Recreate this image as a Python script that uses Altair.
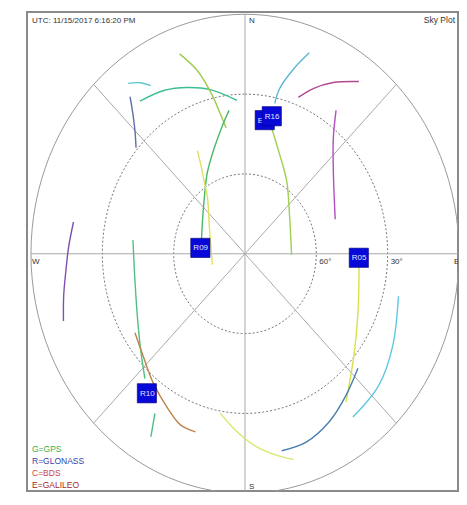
import altair as alt
import pandas as pd
import numpy as np

# ---------------- data (azimuth deg, elevation deg) ----------------
TRACK_AZ = [
    [322.5, 325.5, 327.9],
    [322.4, 331.2, 338.8, 346.7, 356.7],
    [339.9, 343.8, 347.0, 349.3, 350.5],
    [352.9, 348.7, 342.0, 332.6, 321.1, 303.6, 287.0],
    [332.7, 330.5, 327.5, 323.3, 303.7, 253.4],
    [320.7, 317.9, 314.9, 311.0],
    [19.7, 16.4, 13.2, 12.5],
    [20.9, 24.8, 30.0, 36.5],
    [35.4, 40.5, 50.0, 71.1],
    [13.4, 21.4, 32.5, 51.5, 91.2],
    [279.4, 272.0, 264.4, 258.2, 251.7],
    [276.3, 258.2, 240.0, 229.6, 221.9],
    [237.3, 228.2, 218.7, 209.3, 202.9, 197.3],
    [212.3, 209.9],
    [189.9, 184.7, 180.3, 176.1, 171.5, 165.2],
    [95.7, 115.2, 129.9, 142.7],
    [132.2, 141.4, 150.7, 160.0, 168.2],
    [103.9, 119.1, 131.3, 143.5],
]
TRACK_EL = [
    [9.3, 12.0, 15.4],
    [17.6, 19.9, 23.0, 26.6, 32.3],
    [10.0, 18.4, 28.9, 38.2, 42.1],
    [35.7, 41.1, 48.2, 55.6, 62.8, 68.5, 70.9],
    [46.4, 52.8, 58.2, 63.6, 72.0, 75.7],
    [13.7, 19.8, 24.7, 29.3],
    [9.8, 17.6, 26.2, 32.1],
    [27.1, 21.6, 15.7, 9.5],
    [23.9, 32.8, 41.5, 49.9],
    [41.5, 50.0, 57.4, 66.1, 70.4],
    [16.9, 15.8, 14.2, 12.1, 9.6],
    [42.6, 42.7, 38.0, 32.6, 27.0],
    [35.0, 32.5, 28.1, 23.5, 20.2, 19.9],
    [19.1, 10.6],
    [29.2, 24.7, 20.8, 17.3, 14.1, 10.0],
    [41.8, 37.5, 30.3, 19.9],
    [25.9, 21.9, 17.6, 14.7, 14.4],
    [23.5, 18.9, 15.1, 13.7],
]
TRACK_COLORS = [
    "#5cc8d0", "#3cbf8f", "#9acd4a", "#4cb86a", "#e0e060", "#5c6fa8",
    "#5ab4d6", "#b04890", "#b050c0", "#a0d050", "#8050b0", "#50c080",
    "#c0804a", "#50c080", "#d8e870", "#d8e050", "#4a7fb0", "#60c8e0",
]

SAT_LABELS = ["E", "R16", "R09", "R05", "R10"]
SAT_AZ = [9.4, 12.3, 276.7, 91.8, 218.2]
SAT_EL = [39.1, 37.1, 71.1, 42.1, 23.3]

RING_EL = [0, 30, 60]
SPOKE_AZ = [0, 45, 90, 135]

LEGEND_TEXT = ["G=GPS", "R=GLONASS", "C=BDS", "E=GALILEO"]
LEGEND_COLORS = ["#44aa44", "#3344aa", "#cc4444", "#a02828"]

TITLE_LEFT = "UTC: 11/15/2017 6:16:20 PM"
TITLE_RIGHT = "Sky Plot"

# ---------------- tables ----------------
rows = []
for i, (azs, els) in enumerate(zip(TRACK_AZ, TRACK_EL)):
    for j, (a, e) in enumerate(zip(azs, els)):
        rows.append({"track": f"t{i}", "seq": j, "az": a, "el": e})
tracks = pd.DataFrame(rows)

ring_rows = []
for e in RING_EL:
    for k, a in enumerate(np.arange(0, 361, 3)):
        ring_rows.append({"ring": e, "seq": k, "az": float(a), "el": e})
rings = pd.DataFrame(ring_rows)

spoke_rows = []
for a in SPOKE_AZ:
    spoke_rows.append({"spoke": a, "seq": 0, "az": a, "el": 0})
    spoke_rows.append({"spoke": a, "seq": 1, "az": a + 180, "el": 0})
spokes = pd.DataFrame(spoke_rows)

sats = pd.DataFrame({"sat": SAT_LABELS, "az": SAT_AZ, "el": SAT_EL})

W, H = 431, 479
xs = alt.Scale(domain=[-91.67, 89.58], nice=False, zero=False)
ys = alt.Scale(domain=[-89.14, 90.85], nice=False, zero=False)
X = alt.X("x:Q", scale=xs, axis=None)
Y = alt.Y("y:Q", scale=ys, axis=None)


def polar(c):
    return c.transform_calculate(
        zen="90 - datum.el"
    ).transform_calculate(
        x="datum.zen * sin(datum.az * PI / 180)",
        y="datum.zen * cos(datum.az * PI / 180)",
    )


outer = polar(alt.Chart(rings).transform_filter("datum.ring == 0")).mark_line(
    color="#9a9a9a", strokeWidth=1, clip=True
).encode(x=X, y=Y, order="seq:Q", detail="ring:N")

inner = polar(alt.Chart(rings).transform_filter("datum.ring > 0")).mark_line(
    color="#555555", strokeWidth=0.8, strokeDash=[2, 2], clip=True
).encode(x=X, y=Y, order="seq:Q", detail="ring:N")

spk = polar(alt.Chart(spokes)).mark_line(
    color="#aaaaaa", strokeWidth=1, clip=True
).encode(x=X, y=Y, order="seq:Q", detail="spoke:N")

trk = polar(alt.Chart(tracks)).mark_line(
    strokeWidth=1.4, interpolate="catmull-rom", clip=True
).encode(
    x=X, y=Y, order="seq:Q",
    color=alt.Color("track:N", scale=alt.Scale(domain=[f"t{i}" for i in range(len(TRACK_COLORS))],
                                              range=TRACK_COLORS), legend=None),
)


def sat_layer(filt):
    base = polar(alt.Chart(sats).transform_filter(filt))
    sq = base.mark_square(size=370, color="#0808d8", opacity=1, stroke="#00007a",
                          strokeWidth=0.6).encode(x=X, y=Y)
    tx = base.mark_text(align="left", dx=-7, baseline="middle", dy=0.5, fontSize=8,
                        font="Liberation Sans", color="#e4e4ff").encode(x=X, y=Y, text="sat:N")
    return sq + tx


sat_back = sat_layer("datum.sat == 'E'")
sat_front = sat_layer("datum.sat != 'E'")

# compass / ring labels placed at their geometric points
comp = pd.DataFrame({
    "t": ["N", "S", "W", "E", "60°", "30°"],
    "az": [0, 180, 270, 90, 90, 90],
    "el": [0, 0, 0, 0, 60, 30],
    "dx": [4, 4, 1, -5, 3, 3],
    "dy": [9, -4, 10, 10, 10, 10],
})
comp_layers = []
for _, r in comp.iterrows():
    c = polar(alt.Chart(comp).transform_filter(f"datum.t == '{r.t}'")).mark_text(
        align="left", baseline="alphabetic", dx=float(r.dx), dy=float(r.dy), fontSize=8,
        font="Liberation Sans", color="#333333", clip=(r.t == "E")
    ).encode(x=X, y=Y, text="t:N")
    comp_layers.append(c)

title_l = alt.Chart(pd.DataFrame({"t": [TITLE_LEFT]})).mark_text(
    align="left", baseline="alphabetic", fontSize=8, font="Liberation Sans", color="#333333"
).encode(x=alt.value(5), y=alt.value(11), text="t:N")
title_r = alt.Chart(pd.DataFrame({"t": [TITLE_RIGHT]})).mark_text(
    align="right", baseline="alphabetic", fontSize=8.5, font="Liberation Sans", color="#333333"
).encode(x=alt.value(428), y=alt.value(11), text="t:N")

leg_layers = []
for k, (t, col) in enumerate(zip(LEGEND_TEXT, LEGEND_COLORS)):
    leg_layers.append(
        alt.Chart(pd.DataFrame({"t": [t]})).mark_text(
            align="left", baseline="alphabetic", fontSize=8.5, font="Liberation Sans", color=col
        ).encode(x=alt.value(5), y=alt.value(439.5 + 12.0 * k), text="t:N")
    )

chart = alt.layer(
    outer, inner, spk, trk, sat_back, sat_front, *comp_layers, title_l, title_r, *leg_layers
).properties(
    width=W, height=H,
    autosize=alt.AutoSizeParams(type="none"),
    padding={"left": 19, "top": 4, "right": 1, "bottom": 1},
).configure_view(stroke="#8a8a8a", strokeWidth=2)

chart.save("out.html", embed_options={"renderer": "svg", "actions": False})
